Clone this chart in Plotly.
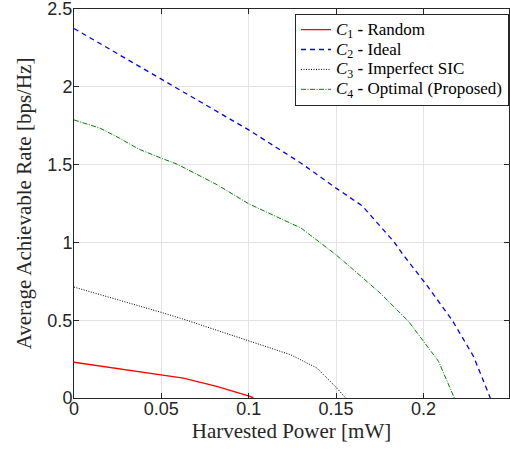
import plotly.graph_objects as go

# Data
x_c1 = [0, 0.0435, 0.0626, 0.0817, 0.095, 0.1008, 0.1027]
y_c1 = [0.23, 0.16, 0.128, 0.075, 0.032, 0.01, 0]

x_c2 = [0, 0.05, 0.1, 0.13, 0.15, 0.165, 0.183, 0.1877, 0.201, 0.2163, 0.2287, 0.2383]
y_c2 = [2.375, 2.049, 1.723, 1.509, 1.349, 1.235, 1.006, 0.931, 0.739, 0.503, 0.267, 0]

x_c3 = [0, 0.025, 0.05, 0.062, 0.075, 0.1, 0.124, 0.139, 0.1495, 0.1555]
y_c3 = [0.713, 0.633, 0.55, 0.509, 0.46, 0.364, 0.278, 0.193, 0.075, 0]

x_c4 = [0, 0.015, 0.026, 0.037, 0.05, 0.059, 0.082, 0.1, 0.13, 0.15, 0.16, 0.1753, 0.1915, 0.2087, 0.2177]
y_c4 = [1.787, 1.734, 1.67, 1.60, 1.541, 1.503, 1.37, 1.248, 1.092, 0.92, 0.824, 0.674, 0.492, 0.235, 0]

labels = ["<i>C</i><sub>1</sub> <b>-</b> Random",
          "<i>C</i><sub>2</sub> <b>-</b> Ideal",
          "<i>C</i><sub>3</sub> <b>-</b> Imperfect SIC",
          "<i>C</i><sub>4</sub> <b>-</b> Optimal (Proposed)"]
names = ['<span style="font-size:17px">%s</span>' % s for s in labels]

x_ticks = [0, 0.05, 0.1, 0.15, 0.2]
x_ticklabels = ["0", "0.05", "0.1", "0.15", "0.2"]
y_ticks = [0, 0.5, 1, 1.5, 2, 2.5]
y_ticklabels = ["0", "0.5", "1", "1.5", "2", "2.5"]

SERIF = "Liberation Serif, Times New Roman, serif"
SANS = "Liberation Sans, Arial, sans-serif"

fig = go.Figure()
fig.add_trace(go.Scatter(x=x_c1, y=y_c1, mode="lines", name=names[0],
                         line=dict(color="#ff0000", width=1.4)))
fig.add_trace(go.Scatter(x=x_c2, y=y_c2, mode="lines", name=names[1],
                         line=dict(color="#0000ff", width=1.3, dash="5px,4px")))
fig.add_trace(go.Scatter(x=x_c3, y=y_c3, mode="lines", name=names[2],
                         line=dict(color="#000000", width=1, dash="1px,1.5px")))
fig.add_trace(go.Scatter(x=x_c4, y=y_c4, mode="lines", name=names[3],
                         line=dict(color="#008000", width=1, dash="5px,1.5px,1px,1.5px")))

axis_common = dict(
    showgrid=True, gridcolor="#e3e3e3", gridwidth=1,
    showline=True, linecolor="#262626", linewidth=1, mirror="allticks",
    ticks="inside", ticklen=5, tickcolor="#262626", zeroline=False,
    automargin=False, ticklabeloverflow="allow",
    tickfont=dict(family=SANS, size=18, color="#262626"),
)

fig.update_xaxes(range=[0, 0.249], tickvals=x_ticks, ticktext=x_ticklabels,
                 ticklabelstandoff=-6,
                 title=dict(text="Harvested Power [mW]", standoff=0,
                            font=dict(family=SERIF, size=21, color="#262626")),
                 **axis_common)
fig.update_yaxes(range=[0, 2.5], tickvals=y_ticks, ticktext=y_ticklabels,
                 ticklabelstandoff=-3,
                 title=dict(text="Average Achievable Rate [bps/Hz]", standoff=10,
                            font=dict(family=SERIF, size=21, color="#262626")),
                 **axis_common)

fig.update_layout(
    width=510, height=453,
    margin=dict(l=74, r=1, t=9, b=55, autoexpand=False),
    plot_bgcolor="white", paper_bgcolor="white",
    showlegend=True,
    legend=dict(x=1, xanchor="right", y=0.988, yanchor="top",
                bgcolor="white", bordercolor="#262626", borderwidth=1,
                font=dict(family=SERIF, size=13, color="#000000"),
                tracegroupgap=0, itemwidth=30),
)

fig.write_html("out.html", config={"displayModeBar": False},
               post_script="document.body.style.margin='0';")
